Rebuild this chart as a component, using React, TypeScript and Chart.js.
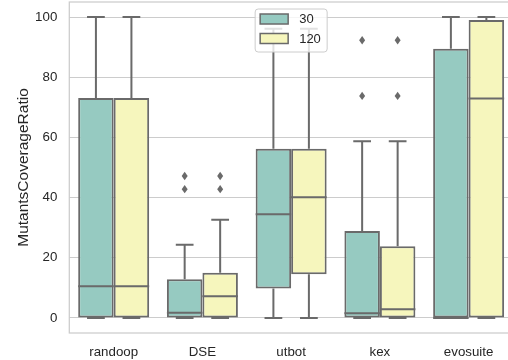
import React, { useEffect, useRef } from 'react';
import { Chart, registerables } from 'chart.js';

Chart.register(...registerables);

const categories = ['randoop', 'DSE', 'utbot', 'kex', 'evosuite'];
const seriesLabels = ['30', '120'];
const yTicks = [0, 20, 40, 60, 80, 100];

// series "30"
const min30 = [0, 0, 0, 0, 0];
const q1_30 = [0, 0, 9.8, 0, 0];
const median30 = [10.5, 1.7, 34.5, 1.6, 0];
const q3_30 = [73.1, 12.9, 56.2, 28.9, 89.5];
const max30 = [100, 24.3, 96.1, 58.7, 100];
const outliers30: number[][] = [[], [47.2, 42.8], [], [92.3, 73.8], []];

// series "120"
const min120 = [0, 0, 0, 0, 0];
const q1_120 = [0, 0, 14.5, 0, 0];
const median120 = [10.5, 7.2, 40.1, 2.9, 72.9];
const q3_120 = [73.1, 15.0, 56.2, 23.8, 99.0];
const max120 = [100, 32.6, 96.1, 58.7, 100];
const outliers120: number[][] = [[], [47.2, 42.8], [], [92.3, 73.8], []];

const FONT = "'Liberation Sans', Arial, Helvetica, sans-serif";
const TEXT = '#262626';
const GRAY = '#6a6a6a';
const GRID = '#cccccc';
const FILLS = ['#96cac1', '#f6f6bd'];

const stats = [
  { min: min30, q1: q1_30, med: median30, q3: q3_30, max: max30, out: outliers30 },
  { min: min120, q1: q1_120, med: median120, q3: q3_120, max: max120, out: outliers120 },
];

const boxPlugin = {
  id: 'boxExtras',
  beforeDatasetsDraw(chart: any) {
    const { ctx, chartArea } = chart;
    ctx.save();
    ctx.strokeStyle = GRID;
    ctx.lineWidth = 1.25;
    ctx.strokeRect(chartArea.left, chartArea.top, chartArea.right - chartArea.left, chartArea.bottom - chartArea.top);
    ctx.restore();
  },
  afterDatasetsDraw(chart: any) {
    const { ctx } = chart;
    const ys = chart.scales.y;
    ctx.save();
    ctx.strokeStyle = GRAY;
    ctx.fillStyle = GRAY;
    ctx.lineWidth = 2;
    ctx.lineCap = 'butt';
    stats.forEach((s, d) => {
      const meta = chart.getDatasetMeta(d);
      meta.data.forEach((el: any, j: number) => {
        const x = el.x;
        const w = el.width;
        const py = (v: number) => ys.getPixelForValue(v);
        ctx.beginPath();
        // upper whisker
        ctx.moveTo(x, py(s.q3[j]));
        ctx.lineTo(x, py(s.max[j]));
        ctx.moveTo(x - w / 4, py(s.max[j]));
        ctx.lineTo(x + w / 4, py(s.max[j]));
        // lower whisker
        ctx.moveTo(x, py(s.q1[j]));
        ctx.lineTo(x, py(s.min[j]));
        ctx.moveTo(x - w / 4, py(s.min[j]));
        ctx.lineTo(x + w / 4, py(s.min[j]));
        // median
        ctx.moveTo(x - w / 2, py(s.med[j]));
        ctx.lineTo(x + w / 2, py(s.med[j]));
        ctx.stroke();
        // outliers
        s.out[j].forEach((v) => {
          const y = py(v);
          ctx.beginPath();
          ctx.moveTo(x, y - 4.2);
          ctx.lineTo(x + 3, y);
          ctx.lineTo(x, y + 4.2);
          ctx.lineTo(x - 3, y);
          ctx.closePath();
          ctx.fill();
        });
      });
    });
    ctx.restore();
  },
  afterDraw(chart: any) {
    const { ctx, chartArea } = chart;
    const cx = (chartArea.left + chartArea.right) / 2;
    const top = chartArea.top + 7;
    const bw = 72;
    const bh = 43;
    ctx.save();
    ctx.beginPath();
    ctx.roundRect(cx - bw / 2, top, bw, bh, 3);
    ctx.fillStyle = 'rgba(255,255,255,0.8)';
    ctx.fill();
    ctx.strokeStyle = GRID;
    ctx.lineWidth = 1;
    ctx.stroke();
    seriesLabels.forEach((lab, i) => {
      const py = top + 5 + i * 19.5;
      ctx.fillStyle = FILLS[i];
      ctx.fillRect(cx - 31, py, 28, 10);
      ctx.strokeStyle = GRAY;
      ctx.lineWidth = 1.5;
      ctx.strokeRect(cx - 31, py, 28, 10);
      ctx.fillStyle = TEXT;
      ctx.font = `13px ${FONT}`;
      ctx.textBaseline = 'middle';
      ctx.textAlign = 'left';
      ctx.fillText(lab, cx + 8, py + 5.5);
    });
    ctx.restore();
  },
};

export default function App() {
  const ref = useRef<HTMLCanvasElement>(null);
  useEffect(() => {
    if (!ref.current) return;
    const chart = new Chart(ref.current, {
      type: 'bar',
      data: {
        labels: categories,
        datasets: stats.map((s, d) => ({
          label: seriesLabels[d],
          data: categories.map((_, j) => [s.q1[j], s.q3[j]]),
          backgroundColor: FILLS[d],
          borderColor: GRAY,
          borderWidth: 2,
          borderSkipped: false,
          categoryPercentage: 0.8,
          barPercentage: 1,
        })) as any,
      },
      options: {
        responsive: false,
        animation: false,
        devicePixelRatio: 1,
        layout: { padding: { top: 2, left: 0, right: 0, bottom: 0 } },
        plugins: { legend: { display: false }, tooltip: { enabled: false } },
        scales: {
          x: {
            grid: { display: false, drawTicks: false },
            border: { display: false },
            ticks: { color: TEXT, font: { family: FONT, size: 13.3 }, padding: 11 },
            afterFit: (s: any) => {
              s.height = 27;
              s.paddingLeft = 0;
              s.paddingRight = 0;
            },
          },
          y: {
            min: -5,
            max: 105,
            afterBuildTicks: (s: any) => {
              s.ticks = yTicks.map((v) => ({ value: v }));
            },
            grid: { color: GRID, lineWidth: 1, drawTicks: false },
            border: { display: false },
            ticks: { color: TEXT, font: { family: FONT, size: 13.3 }, padding: 12 },
            title: {
              display: true,
              text: 'MutantsCoverageRatio',
              color: TEXT,
              font: { family: FONT, size: 15.5 },
              padding: { top: 14.5, bottom: 0 },
            },
            afterFit: (s: any) => {
              s.width = 69.3;
              s.paddingTop = 0;
              s.paddingBottom = 0;
            },
          },
        },
      },
      plugins: [boxPlugin],
    });
    return () => chart.destroy();
  }, []);
  return (
    <div style={{ position: 'fixed', left: 0, top: 0, width: 508, height: 360, overflow: 'hidden', background: '#fff' }}>
      <canvas ref={ref} width={513} height={360} style={{ display: 'block', width: 513, height: 360 }} />
    </div>
  );
}
